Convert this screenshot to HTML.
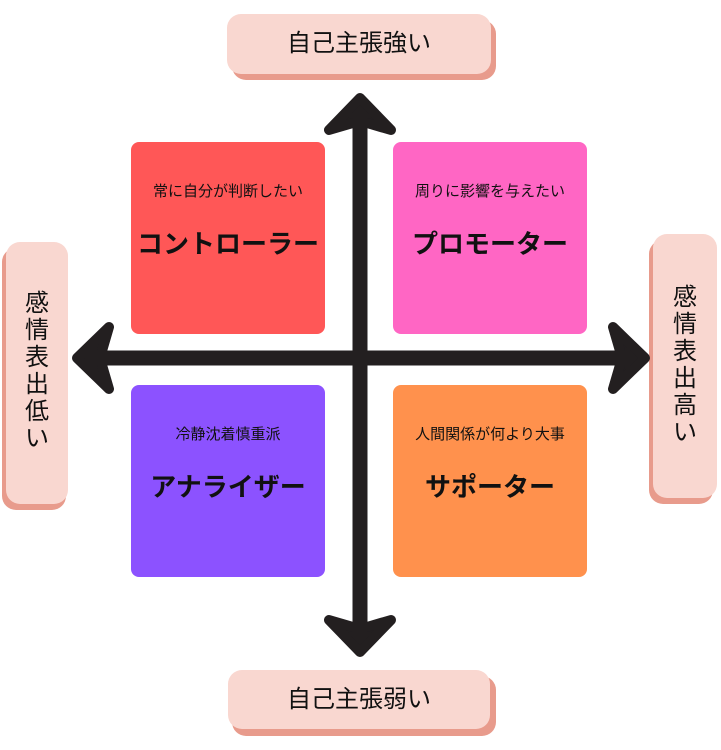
<!DOCTYPE html>
<html><head><meta charset="utf-8"><style>
html,body{margin:0;padding:0;background:#fff;}
body{width:721px;height:750px;position:relative;overflow:hidden;font-family:"Liberation Sans","Noto Sans CJK JP",sans-serif;}
.q{position:absolute;width:194px;height:192px;border-radius:8px;text-align:center;color:#111;}
.q .s{position:absolute;left:0;right:0;top:38px;font-size:15px;white-space:nowrap;}
.q .b{position:absolute;left:0;right:0;top:82px;font-size:26px;font-weight:bold;white-space:nowrap;}
.lab{position:absolute;background:#f9d7d0;border-radius:14px;color:#111;font-size:24px;text-align:center;}
</style></head><body>
<svg width="721" height="750" style="position:absolute;left:0;top:0">
<rect x="232" y="20" width="264" height="60" rx="14" fill="#e89b8c"/>
<rect x="2" y="248" width="64" height="262" rx="14" fill="#e89b8c"/>
<rect x="649" y="240" width="64" height="264" rx="14" fill="#e89b8c"/>
<rect x="232" y="676" width="264" height="60" rx="14" fill="#e89b8c"/>
<g stroke="#231f20" fill="#231f20" stroke-linejoin="round">
<line x1="360" y1="110" x2="360" y2="640" stroke-width="15"/>
<line x1="90" y1="358" x2="630" y2="358" stroke-width="15"/>
<polygon stroke-width="10" points="360,98 391,130 367,123 353,123 329,130"/>
<polygon stroke-width="10" points="360,652 391,620 367,627 353,627 329,620"/>
<polygon stroke-width="10" points="77,358 109,327 102,351 102,365 109,389"/>
<polygon stroke-width="10" points="645,358 613,327 620,351 620,365 613,389"/>
</g>
</svg>
<div class="lab" style="left:227px;top:14px;width:264px;height:60px;line-height:60px;">自己主張強い</div>
<div class="lab" style="left:228px;top:670px;width:262px;height:59px;line-height:59px;">自己主張弱い</div>
<div class="lab" style="left:6px;top:242px;width:62px;height:262px;"><div style="width:26px;margin:48px auto 0;line-height:27px;">感情表出低い</div></div>
<div class="lab" style="left:653px;top:234px;width:64px;height:264px;"><div style="width:26px;margin:50px auto 0;line-height:27px;">感情表出高い</div></div>
<div class="q" style="left:131px;top:142px;background:#ff5757;"><div class="s">常に自分が判断したい</div><div class="b">コントローラー</div></div>
<div class="q" style="left:393px;top:142px;background:#ff66c4;"><div class="s">周りに影響を与えたい</div><div class="b">プロモーター</div></div>
<div class="q" style="left:131px;top:385px;background:#8c52ff;"><div class="s">冷静沈着慎重派</div><div class="b">アナライザー</div></div>
<div class="q" style="left:393px;top:385px;background:#ff914d;"><div class="s">人間関係が何より大事</div><div class="b">サポーター</div></div>
</body></html>
